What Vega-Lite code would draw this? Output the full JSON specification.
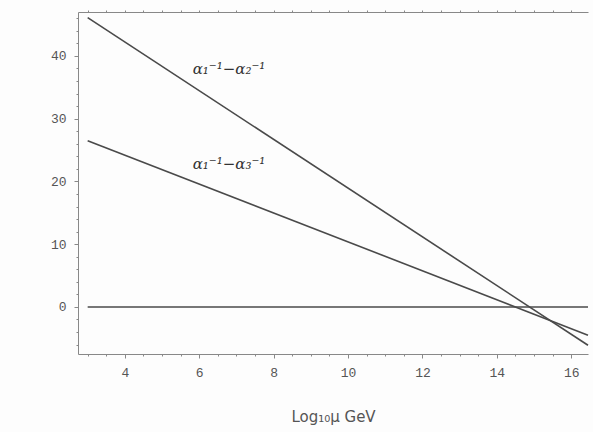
{
  "$schema": "https://vega.github.io/schema/vega-lite/v6.json",
  "width": 510,
  "height": 342,
  "autosize": {"type": "none"},
  "padding": {"left": 78, "top": 12, "right": 5, "bottom": 78},
  "background": "#fdfdfd",
  "config": {
    "view": {"stroke": null},
    "axis": {"grid": false, "labelFont": "Liberation Mono", "labelColor": "#555", "labelFontSize": 13, "domainColor": "#888", "tickColor": "#888", "titleFont": "DejaVu Sans", "titleColor": "#555", "titleFontWeight": "normal"}
  },
  "datasets": {
    "lines": [
      {"x": 3, "y": 46.1, "s": "a12"},
      {"x": 16.45, "y": -6.1, "s": "a12"},
      {"x": 3, "y": 26.5, "s": "a13"},
      {"x": 16.45, "y": -4.5, "s": "a13"},
      {"x": 3, "y": 0, "s": "zero"},
      {"x": 16.45, "y": 0, "s": "zero"}
    ],
    "labels": [
      {"x": 6.8, "y": 37.9, "t": "α₁⁻¹−α₂⁻¹"},
      {"x": 6.8, "y": 22.7, "t": "α₁⁻¹−α₃⁻¹"}
    ]
  },
  "resolve": {"axis": {"x": "independent", "y": "independent"}},
  "layer": [
    {
      "data": {"name": "lines"},
      "mark": {"type": "line", "strokeWidth": 1.6, "color": "#4a4a4a"},
      "encoding": {
        "x": {"field": "x", "type": "quantitative", "scale": {"domain": [2.74, 16.45], "nice": false, "zero": false},
              "axis": {"orient": "bottom", "values": [4, 6, 8, 10, 12, 14, 16], "title": "Log₁₀μ GeV", "titleFontSize": 15, "titlePadding": 30, "labelPadding": 8, "tickSize": 4}},
        "y": {"field": "y", "type": "quantitative", "scale": {"domain": [-7.5, 47], "nice": false, "zero": false},
              "axis": {"orient": "left", "values": [0, 10, 20, 30, 40], "title": null, "labelPadding": 8, "tickSize": 4}},
        "detail": {"field": "s"}
      }
    },
    {
      "data": {"name": "labels"},
      "mark": {"type": "text", "font": "DejaVu Serif", "fontStyle": "italic", "fontSize": 15, "color": "#333"},
      "encoding": {
        "x": {"field": "x", "type": "quantitative",
              "axis": {"orient": "bottom", "values": [3, 3.5, 4.5, 5, 5.5, 6.5, 7, 7.5, 8.5, 9, 9.5, 10.5, 11, 11.5, 12.5, 13, 13.5, 14.5, 15, 15.5, 16.5], "labels": false, "domain": false, "tickSize": 2, "title": null}},
        "y": {"field": "y", "type": "quantitative",
              "axis": {"orient": "left", "values": [-6, -4, -2, 2, 4, 6, 8, 12, 14, 16, 18, 22, 24, 26, 28, 32, 34, 36, 38, 42, 44, 46], "labels": false, "domain": false, "tickSize": 2, "title": null}},
        "text": {"field": "t"}
      }
    },
    {
      "data": {"name": "lines"},
      "mark": {"type": "point", "opacity": 0},
      "encoding": {
        "x": {"field": "x", "type": "quantitative",
              "axis": {"orient": "top", "values": [3, 3.5, 4, 4.5, 5, 5.5, 6, 6.5, 7, 7.5, 8, 8.5, 9, 9.5, 10, 10.5, 11, 11.5, 12, 12.5, 13, 13.5, 14, 14.5, 15, 15.5, 16], "labels": false, "tickSize": 2, "title": null}},
        "y": {"field": "y", "type": "quantitative", "axis": null}
      }
    }
  ]
}
